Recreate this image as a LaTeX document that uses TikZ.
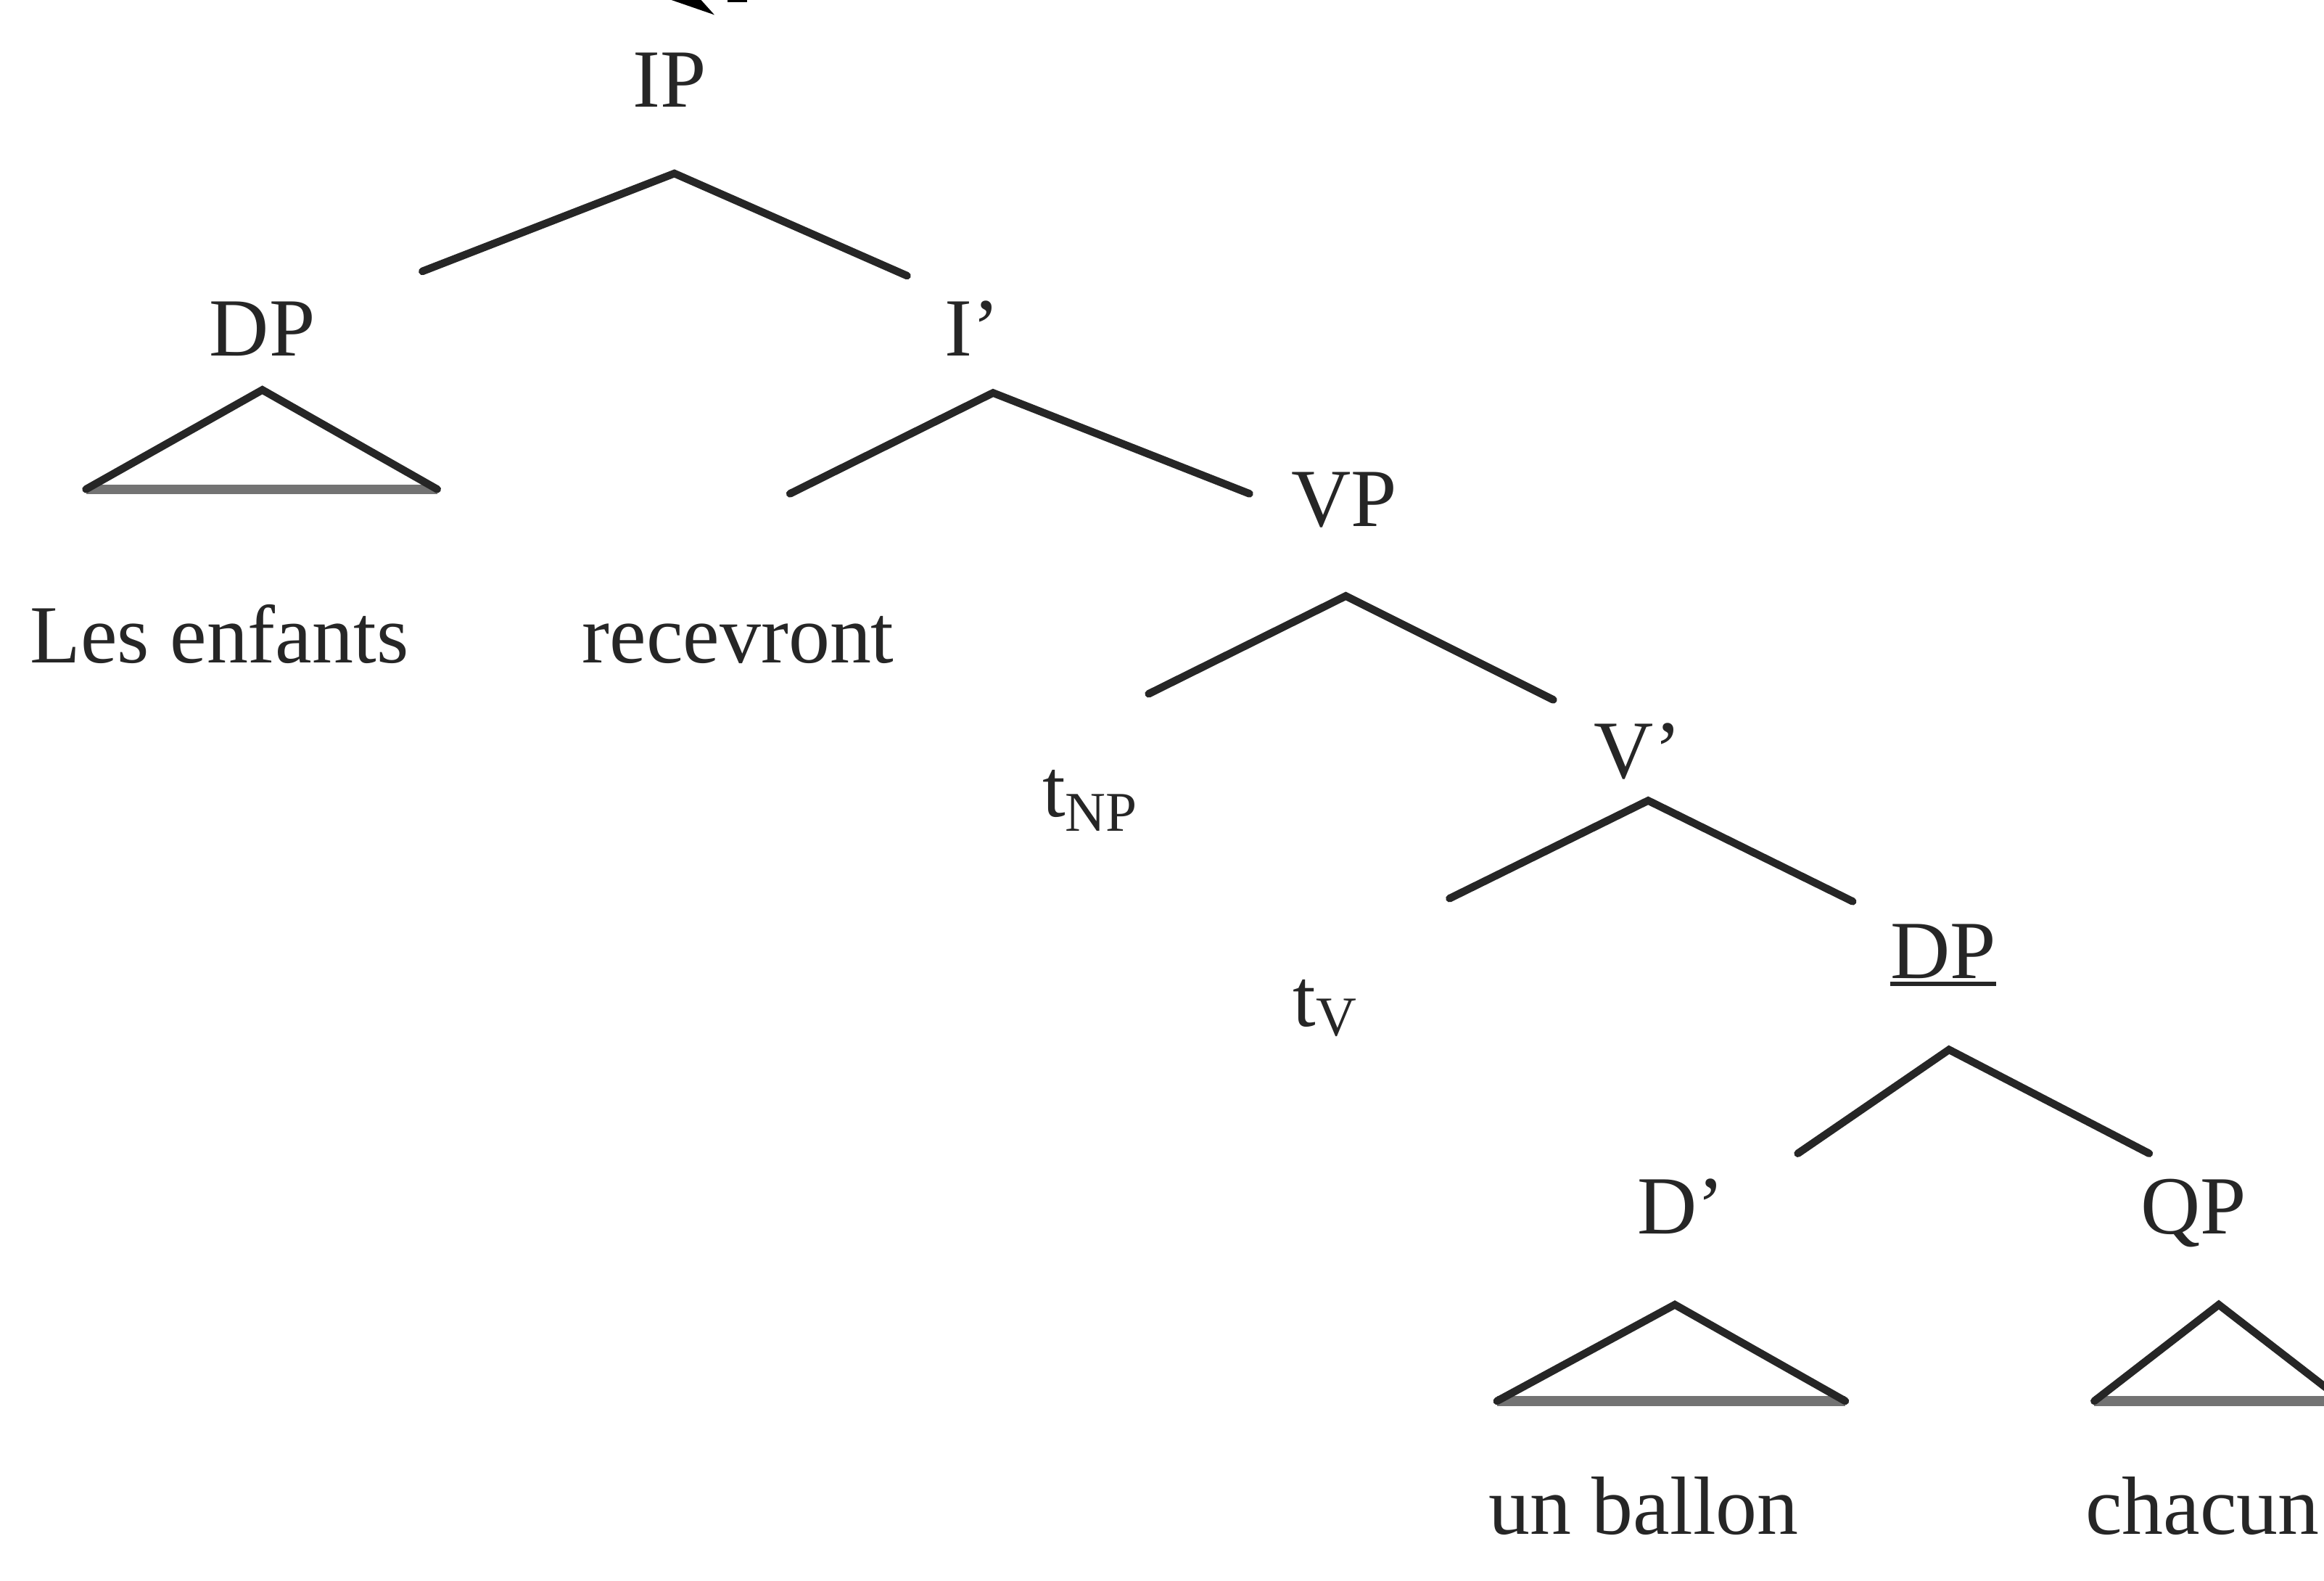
\documentclass[tikz,border=0pt]{standalone}
\usepackage{fontspec}
\setmainfont{Liberation Serif}
\newcommand\thickul[1]{\setbox0\hbox{#1}\rlap{\rule[-0.09em]{\wd0}{0.055em}}#1}
\begin{document}
\begin{tikzpicture}[x=0.020434cm,y=-0.020434cm,
  lab/.style={inner sep=0pt,anchor=base,text=black!85,font=\fontsize{32.4}{38}\selectfont},
  branch/.style={line width=3pt,draw=black!85,line cap=round},
  tribase/.style={line width=3.8pt,draw=black!55}]
\useasboundingbox (0,0) rectangle (1568,1066);
\clip (0,0) rectangle (1568,1066);
% fragment of an arrow at the top
\fill[black] (453,0) -- (473,0) -- (482,10) -- cycle;
\fill[black] (491,0) rectangle (504,1.6);
% labels
\node[lab] (IP) at (452,72) {IP};
\node[lab] (DPa) at (177,240) {DP};
\node[lab] (Ib) at (656,240) {I'};
\node[lab] (les) at (148,447) {Les enfants};
\node[lab] (rec) at (498,447) {recevront};
\node[lab] (VP) at (907,355) {VP};
\node[lab,anchor=base west] (tNP) at (703,551) {t\raisebox{-0.17em}{\fontsize{22}{24}\selectfont NP}};
\node[lab] (Vb) at (1105,525) {V'};
\node[lab,anchor=base west] (tV) at (872,692) {t\raisebox{-0.12em}{\fontsize{22}{24}\selectfont V}};
\node[lab] (DPb) at (1311,660) {\thickul{DP}};
\node[lab] (Db) at (1134,832) {D'};
\node[lab] (QP) at (1480,832) {QP};
\node[lab] (bal) at (1109,1035) {un ballon};
\node[lab] (cha) at (1486,1035) {chacun};
% branch points
\coordinate (IPa) at (455,117);
\coordinate (IPl) at (285,183);
\coordinate (IPr) at (612,186);
\coordinate (Iba) at (670,265);
\coordinate (Ibl) at (533,333);
\coordinate (Ibr) at (843,333);
\coordinate (VPa) at (908,402);
\coordinate (VPl) at (775,468);
\coordinate (VPr) at (1048,472);
\coordinate (Vba) at (1112,540);
\coordinate (Vbl) at (978,606);
\coordinate (Vbr) at (1250,608);
\coordinate (DPba) at (1315,708);
\coordinate (DPbl) at (1213,778);
\coordinate (DPbr) at (1450,778);
% triangles
\coordinate (T1a) at (177,263);
\coordinate (T1l) at (58,330);
\coordinate (T1r) at (295,330);
\coordinate (T2a) at (1130,880);
\coordinate (T2l) at (1010,945);
\coordinate (T2r) at (1245,945);
\coordinate (T3a) at (1497,880);
\coordinate (T3l) at (1413,945);
\coordinate (T3r) at (1581,945);
% branches
\draw[branch] (IPl) -- (IPa) -- (IPr);
\draw[branch] (Ibl) -- (Iba) -- (Ibr);
\draw[branch] (VPl) -- (VPa) -- (VPr);
\draw[branch] (Vbl) -- (Vba) -- (Vbr);
\draw[branch] (DPbl) -- (DPba) -- (DPbr);
\draw[tribase] (T1l) -- (T1r);
\draw[tribase] (T2l) -- (T2r);
\draw[tribase] (T3l) -- (T3r);
\draw[branch] (T1l) -- (T1a) -- (T1r);
\draw[branch] (T2l) -- (T2a) -- (T2r);
\draw[branch] (T3l) -- (T3a) -- (T3r);
\end{tikzpicture}
\end{document}
